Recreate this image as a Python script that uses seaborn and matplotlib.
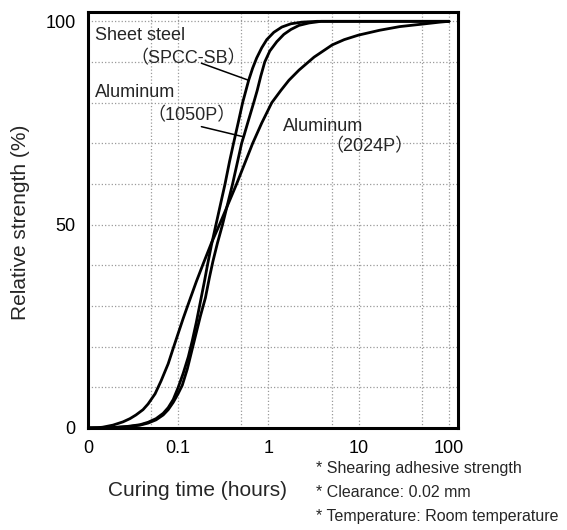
import pandas as pd
import numpy as np
import seaborn as sns
import matplotlib
matplotlib.use('Agg')
import matplotlib.pyplot as plt

# curing time (hours) vs relative strength (%)
steel_t = [0.01, 0.0189, 0.0277, 0.0377, 0.0463, 0.0568, 0.0681, 0.0774, 0.088, 0.1,
           0.1137, 0.1293, 0.1432, 0.1587, 0.1759, 0.1949, 0.2105, 0.2333, 0.2619, 0.2939,
           0.33, 0.37, 0.41, 0.461, 0.517, 0.603, 0.668, 0.74, 0.842, 0.957,
           1.146, 1.407, 1.773, 2.35, 3.45, 100]
steel_v = [0, 0.1, 0.4, 0.8, 1.4, 2.3, 3.6, 5, 7, 10,
           13.5, 17.5, 21.5, 26, 31, 36, 40, 45, 50, 55,
           60, 65.5, 70, 75, 80, 85.5, 88.5, 91, 93.5, 95.5,
           97.3, 98.6, 99.4, 99.8, 100, 100]

al1050_t = [0.01, 0.0189, 0.0277, 0.0377, 0.0463, 0.0568, 0.0681, 0.0774, 0.088, 0.1,
            0.1108, 0.126, 0.1432, 0.1587, 0.1759, 0.2, 0.2216, 0.2424, 0.2721, 0.3094,
            0.3518, 0.4, 0.449, 0.504, 0.537, 0.588, 0.686, 0.75, 0.821, 0.909,
            1.034, 1.237, 1.481, 1.773, 2.177, 2.813, 3.83, 100]
al1050_v = [0, 0.1, 0.3, 0.7, 1.2, 2, 3.2, 4.5, 6.3, 8.5,
            10.5, 14.5, 19.5, 23.5, 27.5, 32, 37, 41, 45.5, 50,
            55, 60, 65, 70, 72, 75, 80, 83, 86.5, 90,
            92.7, 95, 96.8, 98, 99, 99.6, 100, 100]

al2024_t = [0.01, 0.0128, 0.0146, 0.0189, 0.0244, 0.0292, 0.034, 0.0407, 0.0463, 0.0554,
            0.0646, 0.0774, 0.088, 0.1, 0.1137, 0.1293, 0.1587, 0.19, 0.2333, 0.2865,
            0.3563, 0.4433, 0.5443, 0.668, 0.842, 1.088, 1.371, 1.684, 2.177, 3.2,
            5.08, 6.91, 9.9, 17, 28.4, 49.9, 79, 100]
al2024_v = [0, 0.05, 0.2, 0.7, 1.5, 2.3, 3.2, 4.5, 5.9, 8.4,
            11.6, 15.8, 19.6, 23.3, 27, 30.5, 36, 40.5, 45.5, 50,
            55, 60, 65, 70, 75, 80, 83, 85.5, 88, 91.2,
            94.2, 95.5, 96.6, 97.8, 98.7, 99.3, 99.8, 100]

x_ticks = [0.01, 0.1, 1, 10, 100]
x_ticklabels = ['0', '0.1', '1', '10', '100']
x_minor = [0.05, 0.5, 5, 50]
y_ticks = [0, 50, 100]
y_minor = [10, 20, 30, 40, 60, 70, 80, 90]

notes = ['* Shearing adhesive strength',
         '* Clearance: 0.02 mm',
         '* Temperature: Room temperature']

df = pd.concat([
    pd.DataFrame({'t': steel_t, 'v': steel_v, 'material': 'Sheet steel'}),
    pd.DataFrame({'t': al1050_t, 'v': al1050_v, 'material': 'Aluminum 1050P'}),
    pd.DataFrame({'t': al2024_t, 'v': al2024_v, 'material': 'Aluminum 2024P'}),
])

sns.set_style('white')
plt.rcParams['font.family'] = ['Liberation Sans', 'Noto Sans CJK JP', 'DejaVu Sans']

fig = plt.figure(figsize=(5.67, 5.30), dpi=100)
ax = fig.add_axes([0.1552, 0.1925, 0.6526, 0.7849])

sns.lineplot(data=df, x='t', y='v', hue='material', palette=['black'] * 3,
             linewidth=2, legend=False, ax=ax, estimator=None, sort=False)

ax.set_xscale('log')
ax.set_xlim(0.01, 126)
ax.set_ylim(0, 102.3)
ax.set_xticks(x_ticks)
ax.set_xticklabels(x_ticklabels)
ax.set_xticks(x_minor, minor=True)
ax.set_xticklabels([], minor=True)
ax.set_yticks(y_ticks)
ax.set_yticks(y_minor, minor=True)
ax.tick_params(which='both', length=0, labelsize=13, colors='black')
ax.tick_params(axis='x', pad=9)
ax.tick_params(axis='y', pad=9)
ax.grid(which='both', color='#9a9a9a', linestyle=':', linewidth=0.9)
ax.set_xlabel('')
ax.set_ylabel('')
for s in ax.spines.values():
    s.set_color('black')
    s.set_linewidth(2.2)

# curve labels
ax.text(0.0119, 96.6, 'Sheet steel', fontsize=13, va='center')
ax.text(0.129, 90.9, '（SPCC-SB）', fontsize=13, va='center', ha='center')
ax.text(0.0119, 82.6, 'Aluminum', fontsize=13, va='center')
ax.text(0.14, 76.9, '（1050P）', fontsize=13, va='center', ha='center')
ax.text(1.44, 74.2, 'Aluminum', fontsize=13, va='center')
ax.text(13.1, 69.3, '（2024P）', fontsize=13, va='center', ha='center')
ax.plot([0.1805, 0.603], [89.7, 85.5], color='black', linewidth=1.1)
ax.plot([0.1805, 0.53], [74.1, 71.6], color='black', linewidth=1.1)

fig.text(0.037, 0.58, 'Relative strength (%)', rotation=90, fontsize=15,
         ha='center', va='center')
fig.text(197 / 567, 1 - 491 / 530, 'Curing time (hours)', fontsize=15,
         ha='center', va='center')
for i, n in enumerate(notes):
    fig.text(316 / 567, 1 - (469 + 23.5 * i) / 530, n, fontsize=11.5, va='center')

fig.savefig('out.png', dpi=100)
